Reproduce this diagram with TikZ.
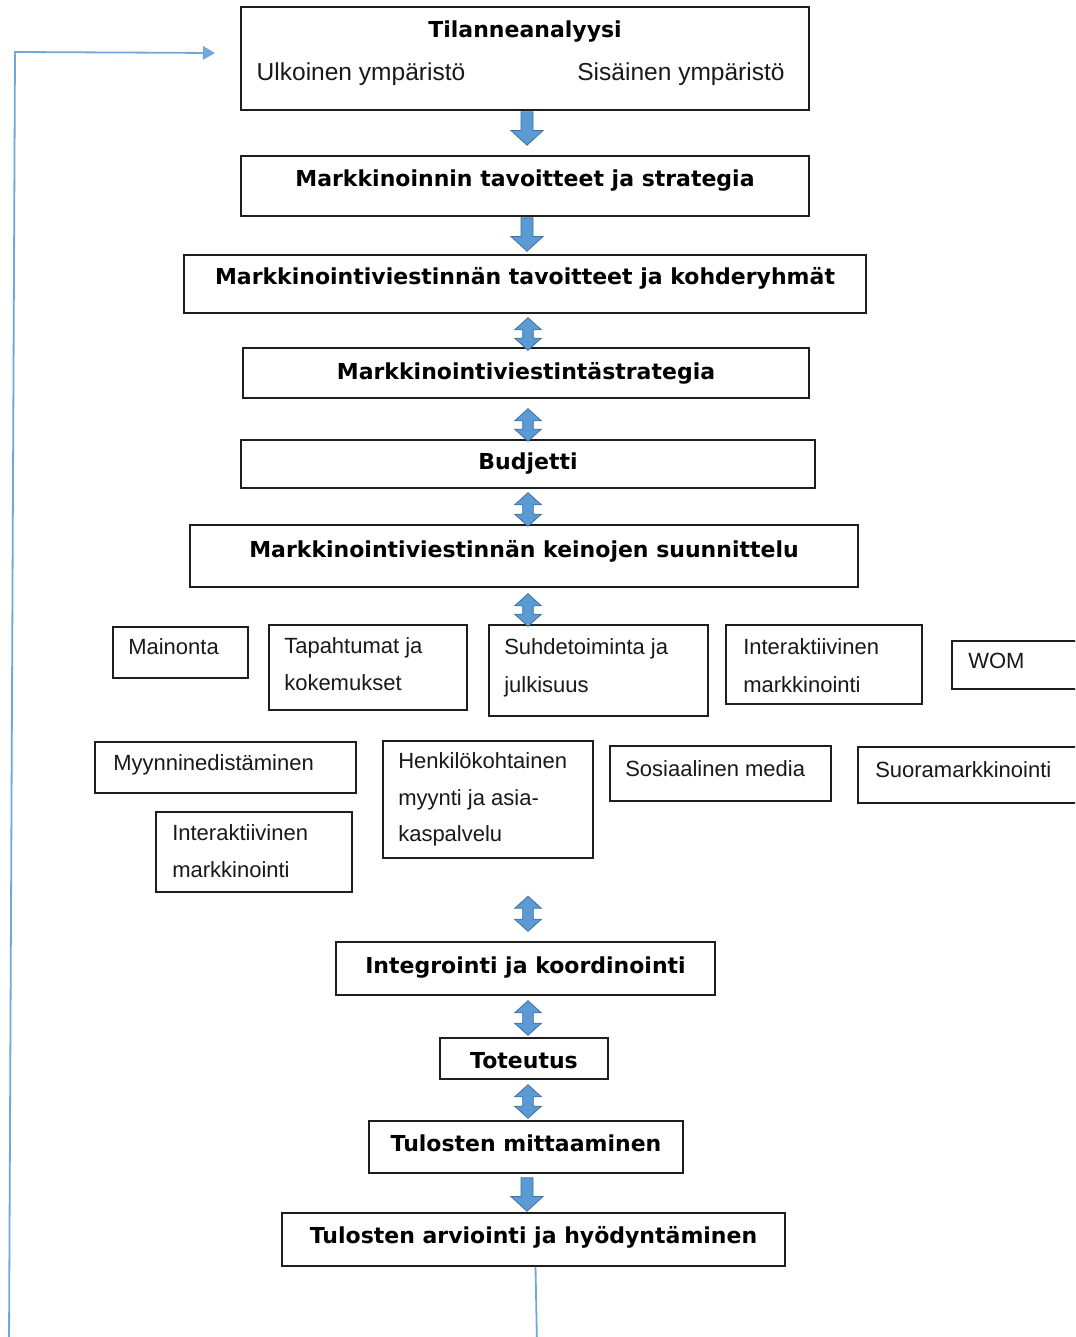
\documentclass[tikz,border=0pt]{standalone}
\usepackage{fontspec}
\setmainfont{Liberation Sans}
\newfontfamily\hdfont{DejaVu Sans}
\usetikzlibrary{calc,arrows.meta}
\definecolor{boxc}{HTML}{1E1E1E}
\definecolor{arrfill}{HTML}{5B9BD5}
\definecolor{arrline}{HTML}{41719C}
\definecolor{fbline}{HTML}{6FA8DC}
\tikzset{
  box/.style={draw=boxc, line width=1.15pt, inner sep=0pt, fill=white},
  hd/.style={font=\hdfont\bfseries\fontsize{16.5}{20}\selectfont, inner sep=0pt, anchor=base},
  sm/.style={font=\fontsize{16.5}{20}\selectfont, inner sep=0pt, anchor=base west, text=black!90},
  sub/.style={font=\fontsize{18.4}{22}\selectfont, inner sep=0pt, anchor=base, text=black!90},
  barrow/.style={fill=arrfill, draw=arrline, line width=0.6pt, line join=miter},
  fb/.style={draw=fbline, line width=1.35pt, -{Triangle[width=10pt,length=9pt]}}
}
\newcommand\mkbox[5]{\node[box, minimum width={0.75*(#4-#2)}, minimum height={0.75*(#5-#3)}] (#1) at ({(#2+#4)/2},{(#3+#5)/2}) {};}
\newcommand\arrdown[2]{%
  \path[barrow] let \p1=(#1), \p2=(#2) in
  (\x1-4.5pt,\y1) -- (\x1+4.5pt,\y1) -- (\x1+4.5pt,\y2+11pt) -- (\x1+12pt,\y2+11pt)
  -- (\x1,\y2) -- (\x1-12pt,\y2+11pt) -- (\x1-4.5pt,\y2+11pt) -- cycle;}
\newcommand\arrboth[2]{%
  \path[barrow] let \p1=(#1), \p2=(#2) in
  (\x1,\y1) -- (\x1+10pt,\y1-9pt) -- (\x1+4pt,\y1-9pt) -- (\x1+4pt,\y2+9pt)
  -- (\x1+10pt,\y2+9pt) -- (\x1,\y2) -- (\x1-10pt,\y2+9pt) -- (\x1-4pt,\y2+9pt)
  -- (\x1-4pt,\y1-9pt) -- (\x1-10pt,\y1-9pt) -- cycle;}
\begin{document}
\begin{tikzpicture}[x=0.75pt,y=-0.75pt]
\useasboundingbox (0,0) rectangle (1075,1337);
\clip (0,0) rectangle (1075,1337);
\fill[white] (0,0) rectangle (1075,1337);

% feedback loop
\coordinate (fbA) at (537,1345);
\coordinate (fbB) at (9,1345);
\coordinate (fbC) at (15,52);
\coordinate (fbT) at (215,53);

% main boxes
\mkbox{b1}{241}{7}{809}{110}
\mkbox{b2}{241}{156}{809}{216}
\mkbox{b3}{184}{255}{866}{313}
\mkbox{b4}{243}{348}{809}{398}
\mkbox{b5}{241}{440}{815}{488}
\mkbox{b6}{190}{525}{858}{587}
\mkbox{b7}{336}{942}{715}{995}
\mkbox{b8}{440}{1038}{608}{1079}
\mkbox{b9}{369}{1121}{683}{1173}
\mkbox{b10}{282}{1213}{785}{1266}

\draw[fb] ($(b10.south)+(2,0)$) -- (fbA) -- (fbB) -- (fbC) -- (fbT);

% small boxes
\mkbox{mai}{113}{627}{248}{678}
\mkbox{tap}{269}{625}{467}{710}
\mkbox{suh}{489}{625}{708}{716}
\mkbox{int1}{726}{625}{922}{704}
\mkbox{wom}{952}{641}{1100}{689}
\mkbox{myy}{95}{742}{356}{793}
\mkbox{hen}{383}{741}{593}{858}
\mkbox{sos}{610}{746}{831}{801}
\mkbox{suo}{858}{747}{1100}{803}
\mkbox{int2}{156}{812}{352}{892}

% texts main
\node[hd] (t1) at (b1.center |- 0,38) {Tilanneanalyysi};
\node[sub] (t1a) at (361,81) {Ulkoinen ympäristö};
\node[sub] (t1b) at (681,81) {Sisäinen ympäristö};
\node[hd] (t2) at (b2.center |- 0,187) {Markkinoinnin tavoitteet ja strategia};
\node[hd] (t3) at (b3.center |- 0,285) {Markkinointiviestinnän tavoitteet ja kohderyhmät};
\node[hd] (t4) at (b4.center |- 0,379) {Markkinointiviestintästrategia};
\node[hd] (t5) at (b5.center |- 0,469) {Budjetti};
\node[hd] (t6) at (b6.center |- 0,557) {Markkinointiviestinnän keinojen suunnittelu};
\node[hd] (t7) at (b7.center |- 0,973) {Integrointi ja koordinointi};
\node[hd] (t8) at (b8.center |- 0,1068) {Toteutus};
\node[hd] (t9) at (b9.center |- 0,1151) {Tulosten mittaaminen};
\node[hd] (t10) at (b10.center |- 0,1243) {Tulosten arviointi ja hyödyntäminen};

% texts small
\node[sm] (s1) at (128,654) {Mainonta};
\node[sm] (s2a) at (284,653) {Tapahtumat ja};
\node[sm] (s2b) at (284,690) {kokemukset};
\node[sm] (s3a) at (504,654) {Suhdetoiminta ja};
\node[sm] (s3b) at (504,692) {julkisuus};
\node[sm] (s4a) at (743,654) {Interaktiivinen};
\node[sm] (s4b) at (743,692) {markkinointi};
\node[sm] (s5) at (968,668) {WOM};
\node[sm] (s6) at (113,770) {Myynninedistäminen};
\node[sm] (s7a) at (398,768) {Henkilökohtainen};
\node[sm] (s7b) at (398,805) {myynti ja asia-};
\node[sm] (s7c) at (398,841) {kaspalvelu};
\node[sm] (s8) at (625,776) {Sosiaalinen media};
\node[sm] (s9) at (875,777) {Suoramarkkinointi};
\node[sm] (s10a) at (172,840) {Interaktiivinen};
\node[sm] (s10b) at (172,877) {markkinointi};

% block arrows
\coordinate (axd) at (527,0);
\coordinate (axb) at (528,0);
\arrdown{$(b1.south -| axd)+(0,1)$}{$(b2.north -| axd)+(0,-10)$}
\arrdown{$(b2.south -| axd)+(0,1)$}{$(b3.north -| axd)+(0,-3)$}
\arrboth{$(b3.south -| axb)+(0,4)$}{$(b4.north -| axb)+(0,3)$}
\arrboth{$(b4.south -| axb)+(0,10)$}{$(b5.north -| axb)+(0,2)$}
\arrboth{$(b5.south -| axb)+(0,4)$}{$(b6.north -| axb)+(0,2)$}
\arrboth{$(b6.south -| axb)+(0,6)$}{$(suh.north -| axb)+(0,2)$}
\arrboth{$(b7.north -| axb)+(0,-45)$}{$(b7.north -| axb)+(0,-10)$}
\arrboth{$(b7.south -| axb)+(0,5)$}{$(b8.north -| axb)+(0,-2)$}
\arrboth{$(b8.south -| axb)+(0,5)$}{$(b9.north -| axb)+(0,-2)$}
\arrdown{$(b9.south -| axd)+(0,4)$}{$(b10.north -| axd)+(0,-1)$}
\end{tikzpicture}
\end{document}
